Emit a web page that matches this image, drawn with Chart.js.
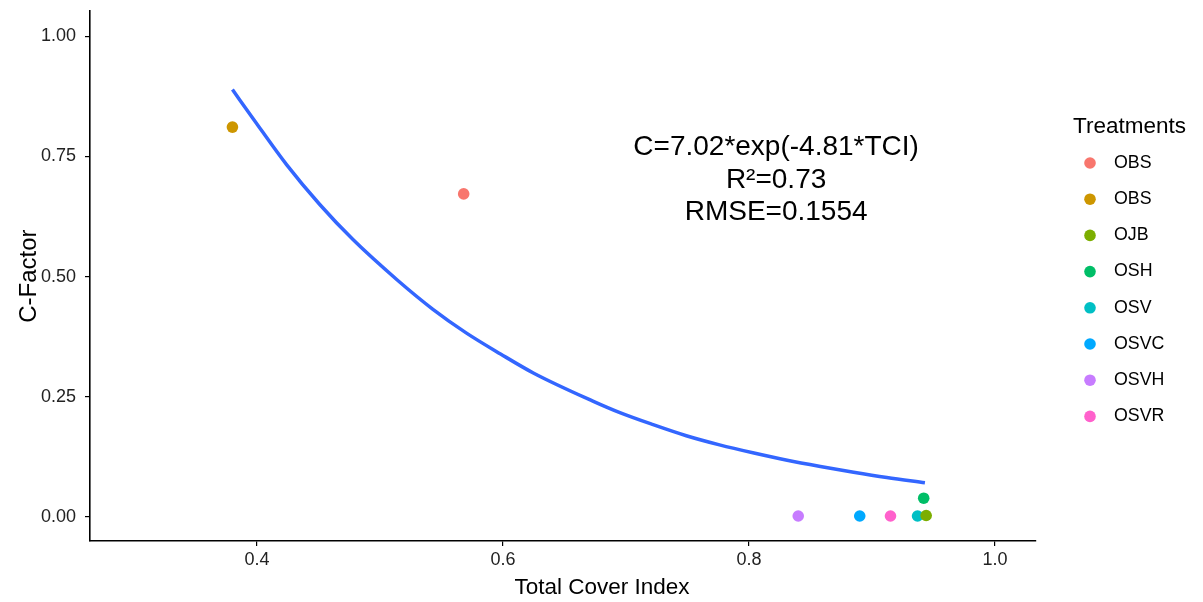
<!DOCTYPE html>
<html>
<head>
<meta charset="utf-8">
<script src="https://cdn.jsdelivr.net/npm/chart.js@4"></script>
<style>
  html, body { margin: 0; padding: 0; background: #fff; }
  #wrap { width: 1203px; height: 602px; position: relative; }
</style>
</head>
<body>
<div id="wrap"><canvas id="myChart"></canvas></div>
<script>
const ctx = document.getElementById("myChart");

// one point per treatment
const treatments = ["OBS", "OBS", "OJB", "OSH", "OSV", "OSVC", "OSVH", "OSVR"];
const tciValues = [0.568, 0.380, 0.944, 0.942, 0.937, 0.890, 0.840, 0.915];
const cFactorValues = [0.672, 0.811, 0.003, 0.039, 0.002, 0.002, 0.002, 0.002];
const pointColors = ["#F8766D", "#CD9600", "#7CAE00", "#00BE67", "#00BFC4", "#00A9FF", "#C77CFF", "#FF61CC"];

// fitted exponential curve, read along its length
const fitTci = [0.380, 0.397, 0.424, 0.451, 0.478, 0.514, 0.543, 0.570, 0.598, 0.625, 0.673,
    0.695, 0.722, 0.749, 0.776, 0.804, 0.831, 0.858, 0.885, 0.912, 0.943];
const fitC = [0.889, 0.828, 0.733, 0.650, 0.577, 0.493, 0.432, 0.383, 0.339, 0.299, 0.241,
    0.217, 0.192, 0.169, 0.150, 0.133, 0.118, 0.105, 0.093, 0.082, 0.071];

const yTicks = [0, 0.25, 0.5, 0.75, 1];
const xTicks = [0.4, 0.6, 0.8, 1.0];
const fitLabel = ["C=7.02*exp(-4.81*TCI)", "R\u00B2=0.73", "RMSE=0.1554"];

const FONT = "'Liberation Sans', Arial, sans-serif";

let datasets = treatments.map((name, i) => ({
    type: "scatter",
    label: name,
    data: [{ x: tciValues[i], y: cFactorValues[i] }],
    backgroundColor: pointColors[i],
    borderWidth: 0,
    pointRadius: 5.8,
    pointHoverRadius: 5.8,
}));

datasets.push({
    type: "line",
    label: "fit",
    data: fitTci.map((x, i) => ({ x: x, y: fitC[i] })),
    borderColor: "#3366FF",
    borderWidth: 3.5,
    pointRadius: 0,
    fill: false,
    cubicInterpolationMode: "monotone",
    order: -1,
});

// axis titles, equation text and the legend on the right
const extras = {
    id: "extras",
    afterDraw(chart) {
        const c = chart.ctx;
        const area = chart.chartArea;
        const xs = chart.scales.x, ys = chart.scales.y;
        c.save();
        c.fillStyle = "#000";
        c.textAlign = "center";
        c.textBaseline = "middle";

        c.font = "22.5px " + FONT;
        c.fillText("Total Cover Index", 602, 588);

        c.save();
        c.translate(29, (area.top + area.bottom) / 2);
        c.rotate(-Math.PI / 2);
        c.font = "24px " + FONT;
        c.fillText("C-Factor", 0, 0);
        c.restore();

        c.font = "28px " + FONT;
        const ex = xs.getPixelForValue(0.822);
        const ey = ys.getPixelForValue(0.768);
        fitLabel.forEach((t, i) => c.fillText(t, ex, ey + i * 32.5));

        c.textAlign = "left";
        c.font = "22.5px " + FONT;
        c.fillText("Treatments", 1073, 127);
        c.font = "17.8px " + FONT;
        chart.data.datasets.filter(d => d.type === "scatter").forEach((d, i) => {
            const y = 163 + i * 36.2;
            c.fillStyle = d.backgroundColor;
            c.beginPath();
            c.arc(1090, y, 5.8, 0, Math.PI * 2);
            c.fill();
            c.fillStyle = "#000";
            c.fillText(d.label, 1114, y);
        });
        c.restore();
    }
};

new Chart(ctx, {
    data: { datasets: datasets },
    options: {
        responsive: true,
        maintainAspectRatio: false,
        animation: false,
        layout: { padding: { top: 0, right: 167, bottom: 0, left: 0 } },
        plugins: {
            legend: { display: false },
            tooltip: { enabled: false },
        },
        scales: {
            x: {
                type: "linear",
                min: 0.2642,
                max: 1.0333,
                afterFit: (s) => { s.height = 61; },
                afterBuildTicks: (s) => { s.ticks = xTicks.map(v => ({ value: v })); },
                grid: { drawOnChartArea: false, drawTicks: true, tickLength: 5, color: "#000", lineWidth: 1.2 },
                border: { display: true, color: "#000", width: 1.6 },
                ticks: {
                    padding: 3,
                    color: "#222",
                    font: { family: FONT, size: 18 },
                    callback: (v) => v.toFixed(1),
                },
            },
            y: {
                type: "linear",
                min: -0.05,
                max: 1.052,
                afterFit: (s) => { s.width = 90; },
                afterBuildTicks: (s) => { s.ticks = yTicks.map(v => ({ value: v })); },
                grid: { drawOnChartArea: false, drawTicks: true, tickLength: 5, color: "#000", lineWidth: 1.2 },
                border: { display: true, color: "#000", width: 1.6 },
                ticks: {
                    padding: 9,
                    color: "#222",
                    font: { family: FONT, size: 18, lineHeight: 0.25 },
                    callback: (v) => v.toFixed(2),
                },
            },
        },
    },
    plugins: [extras],
});
</script>
</body>
</html>
